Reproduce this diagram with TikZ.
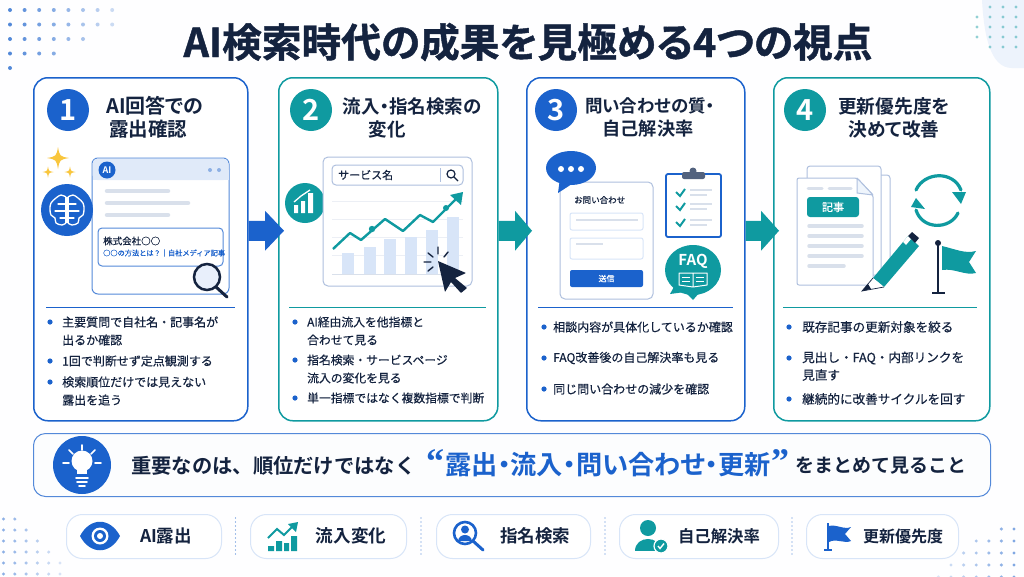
\documentclass[tikz,border=0pt]{standalone}
\usepackage{fontspec}
\setmainfont{Noto Sans CJK JP}
\newfontfamily\jpmed{Noto Sans CJK JP}[FakeBold=0.45]
\newfontfamily\jpbold{Noto Sans CJK JP Bold}
\newfontfamily\jppalt{Noto Sans CJK JP Bold}[RawFeature={+palt}]
\newfontfamily\jpblack{Noto Sans CJK JP Bold}[RawFeature={+palt},FakeBold=1.1]
\newfontfamily\quotefont{Liberation Serif Bold}
\usetikzlibrary{calc,positioning}

\definecolor{mainblue}{HTML}{1B62CC}
\definecolor{mainteal}{HTML}{0F9AA0}
\definecolor{navy}{HTML}{14233F}
\definecolor{palegray}{HTML}{D9E0EB}
\definecolor{paleblue}{HTML}{D8E5F8}
\definecolor{edgeblue}{HTML}{AFC0DE}
\definecolor{sparkle}{HTML}{F9C63D}

\tikzset{
    card/.style={draw=#1,line width=1.5pt,fill=white,rounded corners=14pt,anchor=north west,inner sep=0pt},
    pill/.style={draw=paleblue,line width=1pt,fill=white,rounded corners=16pt,anchor=north west,inner sep=0pt},
    badge/.style={circle,fill=#1,text=white,minimum size=42pt,inner sep=0pt,font=\jpbold\fontsize{29}{29}\selectfont},
    cardtitle/.style={text=navy,inner sep=0pt,font=\jppalt\fontsize{#1}{#1}\selectfont},
    point/.style={anchor=west,text=navy,inner sep=0pt,font=\jpmed\fontsize{#1}{#1}\selectfont},
    pilltext/.style={text=navy,inner sep=0pt,font=\jpbold\fontsize{#1}{#1}\selectfont},
    ghost/.style={palegray,line width=4.5pt,line cap=round},
    small/.style={inner sep=0pt,font=\jpmed\fontsize{#1}{#1}\selectfont}
}

\begin{document}
\begin{tikzpicture}[x=1pt,y=-1pt]

\useasboundingbox (0,0) rectangle (1024,576);
\fill[white!97!paleblue] (0,0) rectangle (1024,576);

% Pale corner shape and dot fields.
\fill[white!55!paleblue]
    (982,0) .. controls (984,35) and (990,68) .. (1012,68) -- (1024,68) -- (1024,0) -- cycle;
\foreach \r/\n in {0/8,1/8,2/6,3/4,4/1} {
    \foreach \i in {1,...,\n} {
        \pgfmathsetmacro{\o}{0.75-0.6*(\i-1)/8}
        \fill[mainblue,opacity=\o] ({10+14.6*(\i-1)},{10+14.5*\r}) circle (2);
    }
}
\foreach \r/\n in {0/3,1/4,2/4,3/4,4/3} {
    \foreach \i in {1,...,\n} {
        \fill[mainteal,opacity=0.45] ({1016-13*(\i-1)},{7+10*\r}) circle (1.6);
    }
}
\foreach \r/\n in {0/2,1/3,2/4,3/5,4/6,5/6} {
    \foreach \i in {1,...,\n} {
        \pgfmathsetmacro{\o}{0.5-0.4*(\i-1)/6}
        \fill[mainblue,opacity=\o] ({3.5+11.3*(\i-1)},{519+11*\r}) circle (1.7);
    }
}
\foreach \r/\n in {0/2,1/4,2/6,3/6,4/7} {
    \foreach \i in {1,...,\n} {
        \pgfmathsetmacro{\o}{0.55-0.45*(\i-1)/7}
        \fill[mainblue,opacity=\o] ({1014-12.6*(\i-1)},{529+12*\r}) circle (1.7);
    }
}

% Main title.
\node[text=navy,inner sep=0pt,font=\jpblack\fontsize{39.7}{39.7}\selectfont] (maintitle) at (528,42)
    {AI検索時代の成果を見極める4つの視点};

% The four cards with badge and divider.
\foreach \c/\x/\w/\col/\bx/\dl/\dr/\n in {
    1/33/214/mainblue/68/46/235/1,
    2/278/219/mainteal/311/289/486/2,
    3/526/218/mainblue/556/538/733/3,
    4/773/216/mainteal/805/783/977/4} {
    \node[card=\col,minimum width=\w pt,minimum height=343pt] (card\c) at (\x,77) {};
    \node[badge=\col] (badge\c) at (\bx,110) {\n};
    \draw[\col,line width=1pt] (\dl,307) -- (\dr,307);
}

% Arrows between the cards.
\foreach \a/\b/\tipx/\col in {card1/card2/19/mainblue,card2/card3/17/mainteal,card3/card4/18/mainteal} {
    \path
        ($(\a.east)+(0,-18.5)$) coordinate (arrowmid)
        ($(\b.west)+(0,-18.5)$) coordinate (arrowend);
    \fill[\col]
        ($(arrowmid)+(0,-10)$)
        -| ($(arrowend)+({-\tipx+6},-20)$)
        -- ($(arrowend)+(6,0)$)
        -- ($(arrowend)+({-\tipx+6},20)$)
        |- ($(arrowmid)+(0,10)$)
        -- cycle;
}

% Card titles.
\foreach \t/\x/\y/\z/\s in {
    t1a/155/106/20/{AI回答での},
    t1b/148/129/19.5/{露出確認},
    t2a/412/106/18.5/{流入・指名検索の},
    t2b/387/129/18.5/{変化},
    t3a/650/106/17.5/{問い合わせの質・},
    t3b/648/129/18.2/{自己解決率},
    t4a/894/106/18.7/{更新優先度を},
    t4b/894/129/18.7/{決めて改善}} {
    \node[cardtitle=\z] (\t) at (\x,\y) {\s};
}

% Bullets.
\foreach \x/\y in {50/322,50/361,50/382,295/322,295/360,295/398,544/327,544/358,544/389,789/327,789/358,789/399} {
    \fill[mainblue] (\x,\y) circle (2.6);
}
\foreach \t/\x/\y/\z/\s in {
    p1/62/322/12/{主要質問で自社名・記事名が},
    p2/62/340/12/{出るか確認},
    p3/62/361/12/{1回で判断せず定点観測する},
    p4/62/382/12/{検索順位だけでは見えない},
    p5/62/400/12/{露出を追う},
    q1/307/322/11.8/{AI経由流入を他指標と},
    q2/307/340/11.8/{合わせて見る},
    q3/307/360/11.8/{指名検索・サービスページ},
    q4/307/378/11.8/{流入の変化を見る},
    q5/307/398/11.8/{単一指標ではなく複数指標で判断},
    r1/553/327/12/{相談内容が具体化しているか確認},
    r2/553/358/12/{FAQ改善後の自己解決率も見る},
    r3/553/389/12/{同じ問い合わせの減少を確認},
    s1/802/327/12.6/{既存記事の更新対象を絞る},
    s2/802/358/12.6/{見出し・FAQ・内部リンクを},
    s3/802/375/12.6/{見直す},
    s4/802/399/12.6/{継続的に改善サイクルを回す}} {
    \node[point=\z] (\t) at (\x,\y) {\s};
}

%
% Card 1: answer window, brain, sparkles.
%
\draw[mainblue!75!white,line width=1pt,fill=white,rounded corners=6pt] (92,158) rectangle (229,294);
\fill[paleblue!80!white,rounded corners=5pt] (92.5,158.5) rectangle (228.5,180);
\fill[paleblue!80!white] (92.5,170) rectangle (228.5,180);
\node[circle,fill=mainblue,text=white,minimum size=17pt,inner sep=0pt,font=\jpbold\fontsize{9}{9}\selectfont] (aimark) at (107,170) {AI};
\fill[mainblue!50!white] (210,170) circle (2) (219,170) circle (2);
\draw[ghost] (107,191) -- (168,191);
\draw[ghost] (107,203) -- (188,203);
\draw[ghost] (107,215) -- (168,215);
\draw[mainblue!75!white,line width=1pt,fill=white,rounded corners=4pt] (98,228) rectangle (223,266);
\node[anchor=west,text=navy,small=9.5] (company) at (103,241) {株式会社○○};
\node[anchor=west,text=mainblue,small=7.2] (resultline) at (103,253) {○○の方法とは？｜自社メディア記事};
% Magnifier on the window corner.
\draw[navy,line width=3pt,line cap=round] (216,287) -- (227,297);
\draw[navy,line width=2.5pt,fill=paleblue!60!white] (207,277) circle (13);
% Brain.
\fill[mainblue] (67,210) circle (26);
\foreach \s in {1,-1} {
    \begin{scope}[shift={(67,210)},xscale=\s]
        \draw[white,line width=1.3pt,line join=round]
            plot[smooth,tension=0.6] coordinates {(1,-13) (6,-15) (11,-12) (16,-7) (17,-1) (16,5) (12,8) (11,13) (5,15) (1,13)};
        \draw[white,line width=1.3pt] (1,-13) -- (1,13);
        \draw[white,line width=1.1pt,line cap=round] (1,-6) -- (9,-6) (1,1) -- (12,1) (1,8) -- (7,8);
    \end{scope}
}
% Sparkles.
\foreach \x/\y/\r in {58/158/11,48/172/5.5,70/172/5.5} {
    \fill[sparkle]
        (\x,{\y-\r})
        .. controls ({\x+0.15*\r},{\y-0.15*\r}) .. ({\x+\r},\y)
        .. controls ({\x+0.15*\r},{\y+0.15*\r}) .. (\x,{\y+\r})
        .. controls ({\x-0.15*\r},{\y+0.15*\r}) .. ({\x-\r},\y)
        .. controls ({\x-0.15*\r},{\y-0.15*\r}) .. cycle;
}

%
% Card 2: search panel and chart.
%
\node[circle,fill=mainteal,minimum size=40pt,inner sep=0pt] (charticon) at (305,203) {};
\fill[white] (294,213) rectangle (298,205) (301,213) rectangle (305,201) (308,213) rectangle (313,193);
\draw[white,line width=1.3pt] (294,202) -- (301,196) -- (310,190);
\draw[edgeblue,line width=1pt,fill=white,rounded corners=5pt] (323,157) rectangle (472,286);
\draw[edgeblue,line width=1pt,rounded corners=4pt] (332,165) rectangle (463,185);
\node[anchor=west,text=navy,small=11] (service) at (338,175) {サービス名};
\draw[edgeblue,line width=1pt] (440,168) -- (440,182);
\draw[navy,line width=1.2pt] (451,174) circle (4) (454,177) -- (458,181);
\foreach \y in {201,219,237,255} {
    \draw[palegray!50!white,line width=0.7pt] (332,\y) -- (463,\y);
}
\draw[palegray,line width=0.7pt] (332,274) -- (463,274);
\foreach \x/\y in {342/253,364/247,384/239,405/237,426/230,447/217} {
    \fill[paleblue] (\x,\y) rectangle ({\x+12},274);
}
\draw[mainteal,line width=2.4pt,line join=round]
    (333,249) -- (350,233) -- (361,240) -- (385,219) -- (403,231) -- (420,215) -- (433,222) -- (457,198);
\fill[mainteal] (463,192) -- (461,205) -- (450,195) -- cycle;
\fill[mainteal] (372,229) circle (3.2) (446,208) circle (3);
% Cursor and click ticks.
\fill[navy,rounded corners=0.5pt]
    (438,261) -- (466,273) -- (455,278) -- (467,288) -- (461,293) -- (451,282) -- (445,292) -- cycle;
\draw[navy,line width=1.4pt,line cap=round]
    (438,247) -- (438,254) (448,252) -- (444,257) (428,253) -- (433,257)
    (424,262) -- (431,262) (428,271) -- (433,267);

%
% Card 3: form, checklist, FAQ.
%
\draw[edgeblue,line width=1pt,fill=white,rounded corners=5pt] (560,182) rectangle (653,299);
\fill[mainblue] (571,168) ellipse (25 and 17);
\fill[mainblue] (560,178) -- (558,193) -- (575,182) -- cycle;
\fill[white] (561,169) circle (3) (571,169) circle (3) (581,169) circle (3);
\node[anchor=west,text=navy,small=8.5] (formtitle) at (574,200) {お問い合わせ};
\foreach \a/\b in {213/230,238/259} {
    \draw[paleblue,line width=1pt,rounded corners=2pt] (570,\a) rectangle (643,\b);
}
\draw[palegray,line width=2pt] (576,220) -- (638,220);
\draw[palegray,line width=2pt] (576,244) -- (603,244);
\node[fill=mainblue,text=white,rounded corners=2pt,minimum width=73pt,minimum height=17pt,inner sep=0pt,font=\jpmed\fontsize{8}{8}\selectfont] (sendbutton) at (606.5,278.5) {送信};
% Clipboard.
\draw[mainblue,line width=1.8pt,fill=white,rounded corners=2pt] (666,174) rectangle (721,237);
\fill[edgeblue!40!navy,rounded corners=2pt] (682,172) rectangle (705,179);
\fill[edgeblue!40!navy] (693,171) circle (3.5);
\foreach \y in {192,206,222} {
    \draw[mainteal,line width=2pt] (676,\y) -- (680,{\y+4}) -- (685,{\y-3});
    \draw[palegray,line width=1.6pt] (690,{\y-2}) -- (712,{\y-2});
    \draw[palegray,line width=1.6pt] (690,{\y+3}) -- (707,{\y+3});
}
% FAQ bubble with book.
\fill[mainteal] (693,270) ellipse (28 and 25);
\fill[mainteal] (675,285) -- (670,294) -- (685,292) -- (693,300) -- (700,292) -- cycle;
\node[text=white,inner sep=0pt,font=\jpbold\fontsize{15}{15}\selectfont] (faqtext) at (693,261) {FAQ};
\draw[white,line width=1pt,line join=round]
    (693,273) -- (693,287) (693,273) -- (679,273) -- (679,285) -- (693,287) -- (707,285) -- (707,273) -- cycle;
\foreach \y in {277,281} {
    \draw[white,line width=0.8pt] (682,\y) -- (690,\y) (696,\y) -- (704,\y);
}

%
% Card 4: documents, pencil, cycle, flag.
%
\draw[edgeblue,line width=1pt,fill=white,rounded corners=3pt] (830,175) rectangle (890,270);
\draw[edgeblue,line width=1pt,fill=white,rounded corners=3pt] (807,166) rectangle (881,275);
\draw[edgeblue,line width=1pt,fill=white,rounded corners=2pt]
    (797,178) -- (857,178) -- (873,195) -- (873,285) -- (797,285) -- cycle;
\draw[edgeblue,line width=1pt,fill=paleblue!40!white,line join=round] (857,178) -- (857,193) -- (873,195) -- cycle;
\draw[palegray,line width=3pt,line cap=round] (808,188) -- (822,188) (829,188) -- (851,188);
\node[fill=mainteal,text=white,rounded corners=3pt,minimum width=52pt,minimum height=20pt,inner sep=0pt,font=\jpmed\fontsize{11}{11}\selectfont] (articletag) at (833,207) {記事};
\foreach \y/\e in {226/862,236/862,246/862,256/862,266/844} {
    \draw[palegray,line width=3.5pt,line cap=round] (809,\y) -- (\e,\y);
}
% Pencil.
\fill[mainteal] (873,278) -- (908,236) -- (919,246) -- (884,287) -- cycle;
\fill[white] (903,242) -- (908,236) -- (911,239) -- (906,245) -- cycle;
\fill[navy] (908,236) -- (912,232) -- (919,238) -- (915,243) -- cycle;
\fill[white] (873,278) -- (884,287) -- (862,291) -- cycle;
\draw[navy,line width=0.7pt] (873,278) -- (862,291) -- (884,287);
\fill[navy] (868,284) -- (862,291) -- (871,289) -- cycle;
% Refresh cycle.
\draw[mainteal,line width=3.2pt,line cap=round] (916,190) .. controls (924,172) and (953,170) .. (961,190);
\fill[mainteal] (966,192) -- (952,192) -- (961,204) -- cycle;
\draw[mainteal,line width=3.2pt,line cap=round] (958,213) .. controls (950,230) and (922,230) .. (916,210);
\fill[mainteal] (911,207) -- (925,209) -- (916,198) -- cycle;
% Flag.
\draw[navy,line width=2pt] (938,242) -- (938,292) (932,293) -- (945,293);
\fill[navy] (938,243) circle (3);
\fill[mainteal] (942,246) .. controls (955,249) and (965,254) .. (976,251)
    -- (969,262) -- (976,273) .. controls (965,276) and (955,268) .. (942,270) -- cycle;

%
% Key message banner.
%
\node[draw=mainblue!75!white,line width=1pt,fill=white!92!paleblue,rounded corners=12pt,minimum width=957pt,minimum height=63pt,anchor=north west,inner sep=0pt] (banner) at (33,433) {};
\fill[mainblue] (82,465) circle (29);
\fill[white] (82,461) circle (10.5);
\fill[white] (77,468) rectangle (87,474);
\draw[white,line width=1.6pt,line cap=round] (76,478) -- (88,478) (77,482) -- (87,482) (79,486) -- (85,486);
\draw[white,line width=1.6pt,line cap=round]
    (82,445) -- (82,450) (69,450) -- (73,454) (95,450) -- (91,454) (63,463) -- (69,463) (95,463) -- (101,463);
\node[anchor=west,text=navy,inner sep=0pt,font=\jpbold\fontsize{20.3}{20.3}\selectfont] (keylead) at (131,466) {重要なのは、順位だけではなく};
\node[anchor=west,text=mainblue,inner sep=0pt,font=\quotefont\fontsize{36}{36}\selectfont] (quoteopen) at (426,462) {“};
\node[anchor=west,text=mainblue,inner sep=0pt,font=\jppalt\fontsize{26.2}{26.2}\selectfont] (keywords) at (445,465) {露出・流入・問い合わせ・更新};
\node[anchor=west,text=mainblue,inner sep=0pt,font=\quotefont\fontsize{36}{36}\selectfont] (quoteclose) at (771,462) {”};
\node[anchor=west,text=navy,inner sep=0pt,font=\jpbold\fontsize{19}{19}\selectfont] (keytail) at (795,466) {をまとめて見ること};

%
% Bottom pills.
%
\foreach \p/\x/\w/\tx/\z/\s in {
    1/66/155/166/17.5/{AI露出},
    2/250/156/351/17.6/{流入変化},
    3/436/154/535/17.5/{指名検索},
    4/619/159/719/16.4/{自己解決率},
    5/806/152/903/16/{更新優先度}} {
    \node[pill,minimum width=\w pt,minimum height=44pt] (pill\p) at (\x,514) {};
    \node[pilltext=\z] (pilltext\p) at (\tx,536) {\s};
}
\foreach \x in {235.5,421,605,792} {
    \draw[mainblue!80!white,line width=1.3pt,line cap=round,dash pattern=on 0pt off 4pt] (\x,518) -- (\x,554);
}
% Eye.
\fill[mainblue] (80,536) .. controls (90,517) and (110,517) .. (120,536)
    .. controls (110,555) and (90,555) .. cycle;
\fill[white] (100,536) circle (8.5);
\fill[mainblue] (100,536) circle (6);
\fill[white] (100,536) circle (3);
% Rising chart.
\fill[mainteal] (268,546) rectangle (274,551) (276,541) rectangle (282,551) (284,543) rectangle (289,551) (291,536) rectangle (297,551);
\draw[mainteal,line width=2pt] (268,538) -- (277,529) -- (284,535) -- (293,526);
\fill[mainteal] (298,522) -- (296,532) -- (288,524) -- cycle;
% Person in magnifier.
\draw[mainblue,line width=3pt,line cap=round] (473,541) -- (483,550);
\draw[mainblue,line width=2.6pt] (465,533) circle (11);
\fill[mainblue] (465,529.5) circle (4);
\fill[mainblue] (458,541) .. controls (459,533) and (471,533) .. (472,541) -- cycle;
% Person with check.
\fill[mainteal] (648,528) circle (8);
\fill[mainteal] (635,551) .. controls (635,535) and (661,535) .. (661,551) -- cycle;
\draw[white,line width=1.2pt,fill=mainteal] (661,546) circle (7);
\draw[white,line width=1.4pt] (658,546) -- (660,548.5) -- (664,543.5);
% Small flag.
\draw[mainblue,line width=2pt] (828,523) -- (828,550) (824,550) -- (832,550);
\fill[mainblue] (829,526) .. controls (836,524) and (844,530) .. (851,527)
    -- (845,534) -- (851,541) .. controls (844,544) and (836,538) .. (829,542) -- cycle;

\end{tikzpicture}
\end{document}
